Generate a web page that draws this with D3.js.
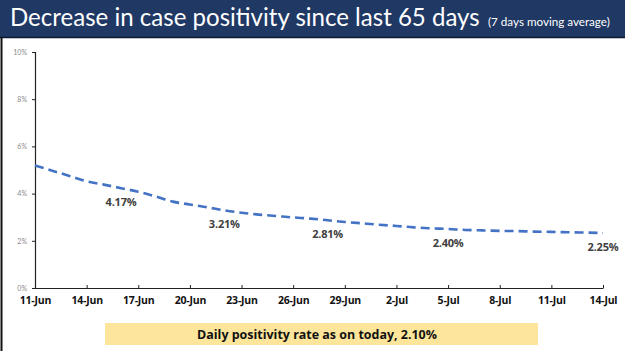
<!DOCTYPE html>
<html>
<head>
<meta charset="utf-8">
<script src="https://cdn.jsdelivr.net/npm/d3@7"></script>
<style>
  html, body { margin: 0; padding: 0; background: #fff; }
  svg { display: block; }
</style>
</head>
<body>
<div id="chart"></div>
<script>
// -- DATA --

days = ['11-Jun', '12-Jun', '13-Jun', '14-Jun', '15-Jun', '16-Jun', '17-Jun', '18-Jun', '19-Jun',
  '20-Jun', '21-Jun', '22-Jun', '23-Jun', '24-Jun', '25-Jun', '26-Jun', '27-Jun', '28-Jun',
  '29-Jun', '30-Jun', '1-Jul', '2-Jul', '3-Jul', '4-Jul', '5-Jul', '6-Jul', '7-Jul', '8-Jul',
  '9-Jul', '10-Jul', '11-Jul', '12-Jul', '13-Jul', '14-Jul']

// 7 day moving average of positivity (%)
positivity = [5.19, 4.97, 4.75, 4.52, 4.38, 4.23, 4.08, 3.88, 3.66,
  3.54, 3.42, 3.29, 3.19, 3.11, 3.05, 2.99, 2.94, 2.87,
  2.80, 2.74, 2.68, 2.63, 2.57, 2.53, 2.50, 2.46, 2.44, 2.42,
  2.41, 2.39, 2.38, 2.36, 2.35, 2.33]

tickDays = ['11-Jun', '14-Jun', '17-Jun', '20-Jun', '23-Jun', '26-Jun', '29-Jun', '2-Jul', '5-Jul', '8-Jul', '11-Jul', '14-Jul']
yTicks = [0, 2, 4, 6, 8, 10]

labelDays = ['16-Jun', '22-Jun', '28-Jun', '5-Jul', '14-Jul']
labelValues = [4.17, 3.21, 2.81, 2.40, 2.25]

title = 'Decrease in case positivity since last 65 days'
subtitle = '(7 days moving average)'
footnote = 'Daily positivity rate as on today, 2.10%'

// -- GLOBAL --

width = 625
height = 351
margin = {left: 35, right: 22, top: 52, bottom: 63}
fontMain = 'Lato, "Open Sans", sans-serif'

var svg = d3.select('#chart').append('svg')
  .attr('width', width)
  .attr('height', height)

// -- FUNCTIONS --

function fitText(sel, targetWidth) {
  var fs = parseFloat(sel.style('font-size'))
  var w = sel.node().getComputedTextLength()
  sel.style('font-size', (fs * targetWidth / w) + 'px')
}

function plotHeader() {
  svg.append('rect')
    .attr('x', 0).attr('y', 0)
    .attr('width', width).attr('height', 37)
    .style('fill', '#1f3864')

  svg.append('line')
    .attr('x1', 0).attr('x2', width)
    .attr('y1', 37.5).attr('y2', 37.5)
    .style('stroke', '#0d1a33')
    .style('stroke-width', '1.5px')

  // left frame
  svg.append('line')
    .attr('x1', 1.5).attr('x2', 1.5)
    .attr('y1', 37).attr('y2', height)
    .style('stroke', '#111')
    .style('stroke-width', '2px')

  var t = svg.append('text')
    .attr('x', 10)
    .attr('y', 26)
    .style('fill', 'white')
    .style('font-family', fontMain)
    .style('font-size', '21px')
    .text(title)
  fitText(t, 470)

  var s = svg.append('text')
    .attr('x', 488)
    .attr('y', 26)
    .style('fill', 'white')
    .style('font-family', fontMain)
    .style('font-size', '10px')
    .text(subtitle)
  fitText(s, 122)
}

function plotLine() {
  var data = days.map((d, i) => ({day: d, value: positivity[i]}))

  var xMap = d3.scalePoint()
    .domain(days)
    .range([margin.left, width - margin.right])

  var yMap = d3.scaleLinear()
    .domain([0, 10])
    .range([height - margin.bottom, margin.top])

  var g = svg.append('g')

  // y axis
  var yAxis = d3.axisLeft(yMap)
    .tickValues(yTicks)
    .tickSize(3)
    .tickFormat(d => d + '%')

  var gY = g.append('g')
    .attr('transform', 'translate(' + margin.left + ',0)')
    .call(yAxis)
  gY.select('.domain').style('stroke', '#222').style('stroke-width', '1.2px')
  gY.selectAll('.tick line').style('stroke', '#222')
  gY.selectAll('text')
    .attr('x', -8)
    .style('font-family', fontMain)
    .style('font-size', '7px')
    .style('fill', '#8a8a8a')

  // x axis
  var xAxis = d3.axisBottom(xMap)
    .tickValues(tickDays)
    .tickSizeInner(-3)
    .tickSizeOuter(0)

  var gX = g.append('g')
    .attr('transform', 'translate(0,' + (height - margin.bottom) + ')')
    .call(xAxis)
  gX.select('.domain').style('stroke', '#222').style('stroke-width', '1.2px')
  gX.selectAll('.tick line').style('stroke', '#222')
  gX.selectAll('text')
    .attr('y', 9)
    .style('font-family', '"Open Sans", sans-serif')
    .style('font-weight', '700')
    .style('font-size', '10.5px')
    .style('letter-spacing', '-0.2px')
    .style('fill', '#111')

  var line = d3.line()
    .x(d => xMap(d.day))
    .y(d => yMap(d.value))
    .curve(d3.curveMonotoneX)

  g.append('path')
    .datum(data)
    .attr('d', line)
    .style('fill', 'none')
    .style('stroke', '#4472c4')
    .style('stroke-width', '2.6px')
    .style('stroke-dasharray', '9,5')

  g.selectAll('.val')
    .data(labelDays)
    .enter().append('text')
    .attr('class', 'val')
    .attr('x', d => xMap(d))
    .attr('y', (d, i) => yMap(labelValues[i]) + 16)
    .style('text-anchor', 'middle')
    .style('font-family', '"Open Sans", sans-serif')
    .style('font-weight', '700')
    .style('font-size', '11px')
    .style('letter-spacing', '-0.2px')
    .style('fill', '#404040')
    .text((d, i) => labelValues[i].toFixed(2) + '%')
}

function plotFootnote() {
  svg.append('rect')
    .attr('x', 105).attr('y', 323)
    .attr('width', 433).attr('height', 22)
    .style('fill', '#fde59c')

  var f = svg.append('text')
    .attr('x', 317)
    .attr('y', 338.5)
    .style('text-anchor', 'middle')
    .style('font-family', '"Open Sans", sans-serif')
    .style('font-weight', '700')
    .style('font-size', '12px')
    .style('fill', '#111')
    .text(footnote)
  fitText(f, 240)
}

// -- MAIN --
plotHeader()
plotLine()
plotFootnote()
</script>
</body>
</html>
